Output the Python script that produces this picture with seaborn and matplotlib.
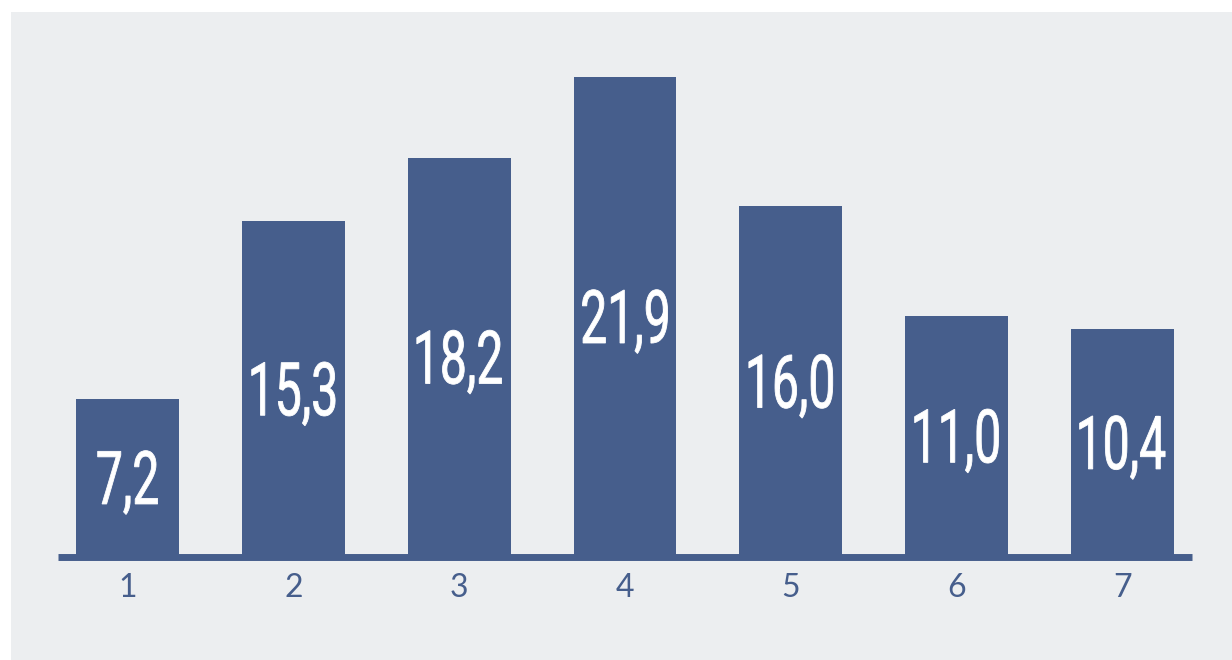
import pandas as pd
import numpy as np
from matplotlib import pyplot as plt
from matplotlib.patches import Rectangle, PathPatch
from matplotlib.textpath import TextPath
from matplotlib.font_manager import FontProperties
from matplotlib.transforms import Affine2D
import seaborn as sns

categories = ['1', '2', '3', '4', '5', '6', '7']
values = [7.2, 15.3, 18.2, 21.9, 16.0, 11.0, 10.4]

bar_color = '#465E8C'
panel_color = '#ECEEF0'

sns.set_style('white')
plt.rcParams['font.family'] = ['Lato', 'DejaVu Sans']

df = pd.DataFrame({'cat': categories, 'val': values})

fig = plt.figure(figsize=(12.32, 6.6), dpi=100)
fig.patch.set_facecolor('white')
# gray panel behind the chart
fig.patches.append(Rectangle((11 / 1232, 0), 1 - 11 / 1232, (660 - 12) / 660,
                             transform=fig.transFigure, facecolor=panel_color,
                             edgecolor='none', zorder=-5))

ax = fig.add_axes([58 / 1232, (660 - 556.5) / 660, (1192 - 58) / 1232, 503.7 / 660])
ax.set_facecolor('none')
ax.set_zorder(1)

sns.barplot(data=df, x='cat', y='val', color=bar_color, saturation=1,
            width=0.62, linewidth=0, ax=ax, zorder=3)

ax.set_xlim(-0.42, 6.42)
ax.set_ylim(0, 23)
ax.set_xlabel('')
ax.set_ylabel('')
ax.set_yticks([])

for s in ['top', 'right', 'left']:
    ax.spines[s].set_visible(False)
ax.spines['bottom'].set_color(bar_color)
ax.spines['bottom'].set_linewidth(5.0)
ax.spines['bottom'].set_capstyle('butt')
ax.spines['bottom'].set_zorder(2)

ax.tick_params(axis='x', length=0, pad=12, labelsize=23, labelcolor=bar_color)

# value labels: condensed white digits, centred in each bar
labels = [('%.1f' % v).replace('.', ',') for v in values]
fp = FontProperties(family='Roboto')
size = 74
squeeze = 0.65
cap = TextPath((0, 0), '0', size=size, prop=fp).get_extents()
for i, (v, lab) in enumerate(zip(values, labels)):
    tp = TextPath((0, 0), lab, size=size, prop=fp)
    ext = tp.get_extents()
    cx, cy = ax.transData.transform((i, v / 2))
    tr = (Affine2D().translate(-(ext.x0 + ext.x1) / 2, -(cap.y0 + cap.y1) / 2)
          .scale(squeeze, 1).translate(cx, cy))
    ax.add_artist(PathPatch(tp, transform=tr, facecolor='white',
                            edgecolor='white', linewidth=0.6, zorder=4, clip_on=False))

plt.savefig('out.png', dpi=100)
